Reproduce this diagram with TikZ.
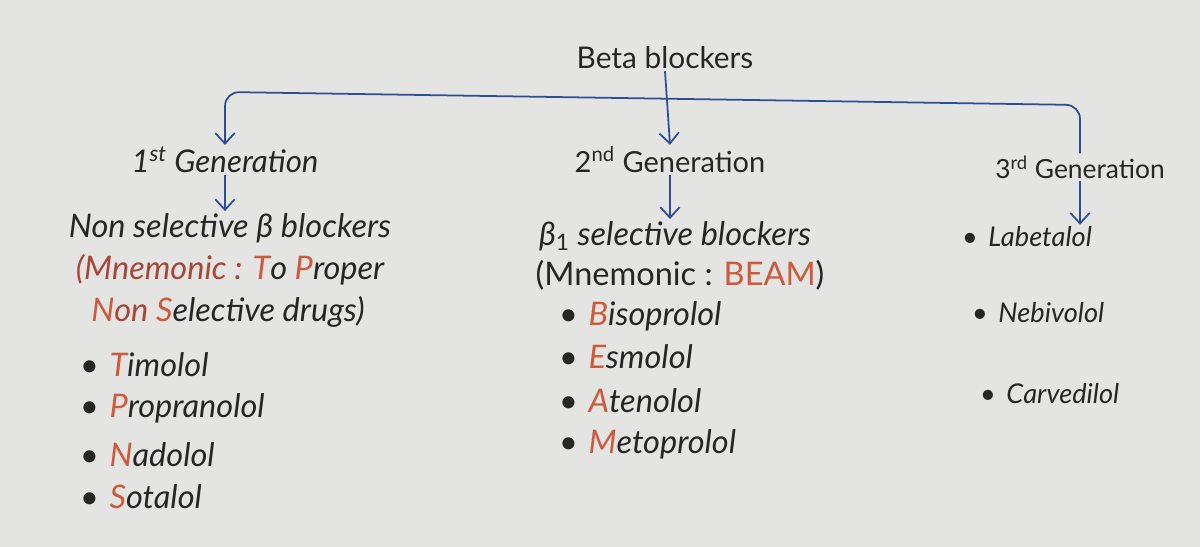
\documentclass[tikz,border=0pt]{standalone}
\usepackage{fontspec}
\setmainfont{Lato}
\usetikzlibrary{arrows.meta}
\definecolor{paper}{HTML}{E4E4E2}
\definecolor{pen}{HTML}{262626}
\definecolor{ink}{HTML}{2D4E95}
\definecolor{mnem}{HTML}{A5483A}
\definecolor{hl}{HTML}{CC5A3C}
\newcommand{\hl}[1]{\textcolor{hl}{#1}}
\newcommand{\mn}[1]{\textcolor{mnem}{#1}}
\newcommand{\bul}{\textbullet\hspace{6pt}}
\tikzset{
  txt/.style={text=pen, inner sep=1pt, font=\fontsize{18.5}{22}\selectfont},
  itxt/.style={txt, font=\fontsize{18.5}{22}\selectfont\itshape},
  sz/.style={font=\fontsize{#1}{#1}\selectfont},
  isz/.style={font=\fontsize{#1}{#1}\selectfont\itshape},
  item/.style={itxt, anchor=west},
  arr/.style={ink, line width=1pt, -{Straight Barb[length=6pt,width=11pt]}},
}
\begin{document}
\begin{tikzpicture}[x=0.02cm, y=-0.02cm]
    \fill[paper] (0,0) rectangle (1200,547);
    \useasboundingbox (0,0) rectangle (1200,547);

    \node[txt, sz=17] (bb) at (665,58) {Beta blockers};

    \node[itxt, isz=17.8] (g1) at (225,160) {1\textsuperscript{st} Generation};
    \node[txt, sz=16.5] (g2) at (670,160) {2\textsuperscript{nd} Generation};
    \node[txt, sz=15] (g3) at (1080,167) {3\textsuperscript{rd} Generation};

    \coordinate (bl) at (g1.north |- 0,92);
    \coordinate (br) at (g3.north |- 0,105);

    % first generation
    \node[itxt] (ns) at (230,228) {Non selective β blockers};
    \node[itxt] (nsm) at (230,270) {\mn{(Mnemonic :} \hl{T}o \hl{P}roper};
    \node[itxt] (nsd) at (228,312) {\hl{N}\mn{on} \hl{S}elective drugs)};
    \node[item] (timo) at (78,365) {\bul\hl{T}imolol};
    \node[item] (prop) at (78,408) {\bul\hl{P}ropranolol};
    \node[item] (nado) at (78,455) {\bul\hl{N}adolol};
    \node[item] (sota) at (78,497) {\bul\hl{S}otalol};

    % second generation
    \node[itxt] (s1) at (675,236) {β\textsubscript{\upshape 1} selective blockers};
    \node[txt] (s1m) at (680,275) {(Mnemonic : \hl{BEAM})};
    \node[item] (biso) at (557,316) {\bul\hl{B}isoprolol};
    \node[item] (esmo) at (557,357) {\bul\hl{E}smolol};
    \node[item] (aten) at (557,401) {\bul\hl{A}tenolol};
    \node[item] (meto) at (557,444) {\bul\hl{M}etoprolol};

    % third generation
    \node[item, isz=15.5] (labe) at (960,237) {\bul Labetalol};
    \node[item, isz=15.5] (nebi) at (970,313) {\bul Nebivolol};
    \node[item, isz=15.5] (carv) at (978,394) {\bul Carvedilol};

    \draw[arr] (bb.south) -- (g2.north);
    \draw[arr, {Straight Barb[length=6pt,width=11pt]}-, rounded corners=8pt] (g1.north) -- (bl) -- (br) -- (g3.north);
    \draw[arr] (g1.south) -- (ns.north -| g1.south);
    \draw[arr] (g2.south) -- (s1.north -| g2.south);
    \draw[arr] (g3.south) -- (labe.north -| g3.south);
\end{tikzpicture}
\end{document}
